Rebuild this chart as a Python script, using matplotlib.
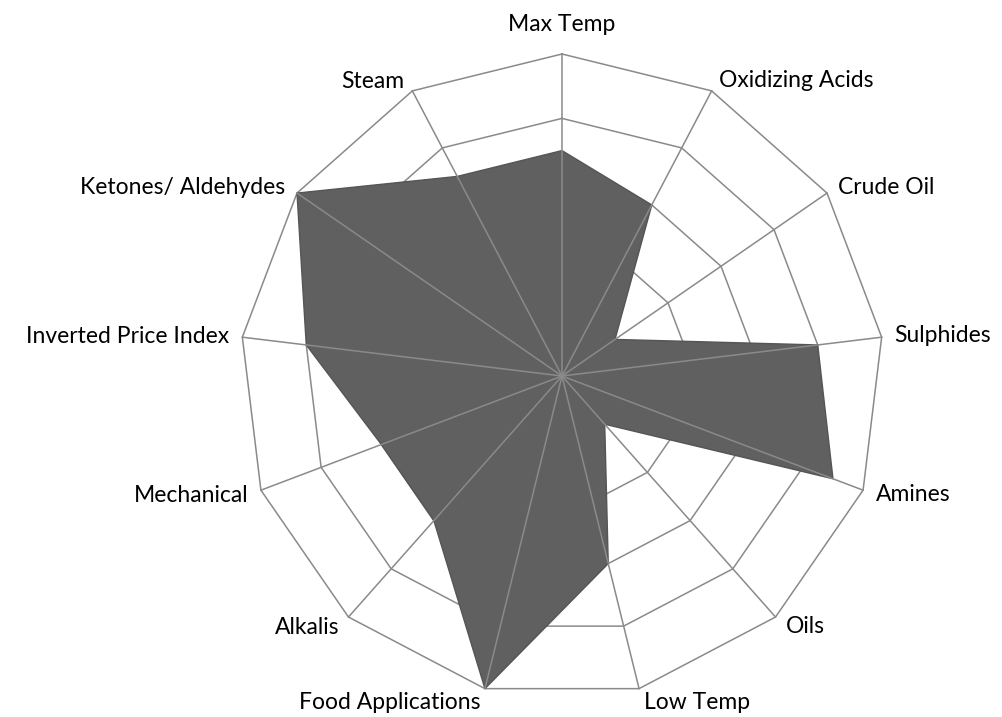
import numpy as np
import matplotlib.pyplot as plt

categories = ["Max Temp", "Oxidizing Acids", "Crude Oil", "Sulphides", "Amines", "Oils",
              "Low Temp", "Food Applications", "Alkalis", "Mechanical",
              "Inverted Price Index", "Ketones/ Aldehydes", "Steam"]
values = [3.5, 3, 1, 4, 4.5, 1, 3, 5, 3, 3, 4, 5, 3.5]
ring_levels = [1, 2, 3, 4, 5]

# label placement: (ha, dx px, dy px down) relative to the outer vertex, baseline anchored
label_layout = [("center", 0, -23), ("left", 7, -4), ("left", 11, 1), ("left", 13, 5),
                ("left", 13, 11), ("left", 10, 16), ("left", 5, 20), ("right", -4, 20),
                ("right", -9, 17), ("right", -12, 12), ("right", -13, 6), ("right", -12, 1),
                ("right", -8, -3)]

plt.rcParams["font.family"] = ["Lato", "DejaVu Sans"]

n = len(categories)
theta = np.arange(n) * 2 * np.pi / n
sx, sy = np.sin(theta), np.cos(theta)

fig = plt.figure(figsize=(10.03, 7.17), dpi=100)
ax = fig.add_axes([0, 0, 1, 1])
px = 322 / ring_levels[-1]
ax.set_xlim(-562 / px, 441 / px)
ax.set_ylim(-341 / px, 376 / px)
ax.axis("off")

grid_col = "#8a8a8a"
for lev in ring_levels:
    ax.plot(np.append(lev * sx, lev * sx[0]), np.append(lev * sy, lev * sy[0]),
            color=grid_col, lw=1.1, zorder=1)

v = np.array(values, dtype=float)
ax.fill(v * sx, v * sy, facecolor="#606060", edgecolor="#555555", lw=1.0, zorder=2)

R = ring_levels[-1]
for i in range(n):
    ax.plot([0, R * sx[i]], [0, R * sy[i]], color=grid_col, lw=1.1, zorder=3)

for i, name in enumerate(categories):
    ha, dx, dy = label_layout[i]
    ax.annotate(name, (R * sx[i], R * sy[i]), xytext=(dx, -dy), textcoords="offset pixels",
                ha=ha, va="baseline", fontsize=16.5, color="black")

plt.savefig("out.png", dpi=100)
